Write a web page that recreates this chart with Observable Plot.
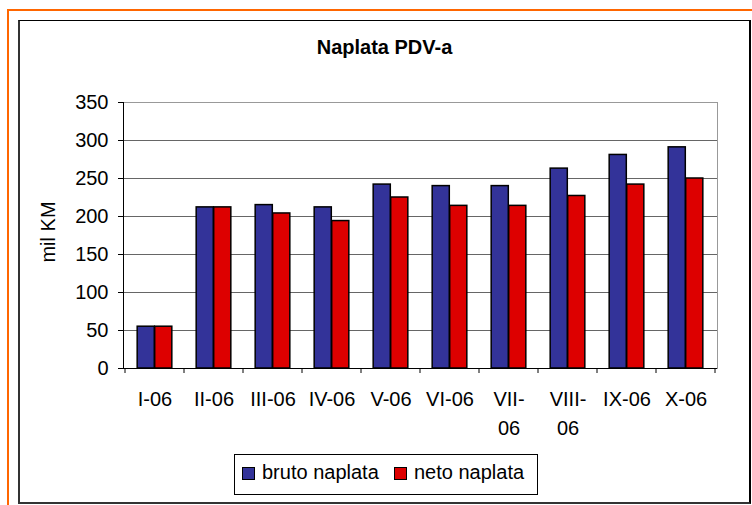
<!DOCTYPE html>
<html><head><meta charset="utf-8">
<script src="https://cdn.jsdelivr.net/npm/d3@7"></script>
<script src="https://cdn.jsdelivr.net/npm/@observablehq/plot@0.6"></script>
<style>
html,body{margin:0;padding:0;background:#fff;}
#wrap{position:relative;width:752px;height:505px;overflow:hidden;font-family:"Liberation Sans",Arial,sans-serif;color:#000;}
#orange{position:absolute;left:7px;top:9px;width:800px;height:600px;border-top:2px solid #ff6600;border-left:2px solid #ff6600;}
#box{position:absolute;left:18px;top:20px;width:729px;height:481px;border-top:1px solid #000;border-right:2px solid #000;border-left:2px solid #333;border-bottom:2px solid #333;}
#title{position:absolute;left:19px;width:731px;top:37px;text-align:center;font-weight:bold;font-size:20px;line-height:20px;}
#ylab{position:absolute;left:-2px;top:222px;width:100px;text-align:center;font-size:20px;line-height:20px;transform:rotate(-90deg);}
#chart{position:absolute;left:0;top:0;}
#legend{position:absolute;left:234px;top:454px;width:302px;height:39px;border:1px solid #000;background:#fff;}
.sw{position:absolute;width:11px;height:11px;border:1px solid #000;}
.lt{position:absolute;font-size:20px;line-height:20px;white-space:nowrap;}
</style>
</head><body>
<div id="wrap">
  <div id="orange"></div>
  <div id="box"></div>
  <div id="title"></div>
  <div id="ylab"></div>
  <div id="chart"></div>
  <div id="legend"></div>
</div>
<script>
const title = "Naplata PDV-a";
const yLabel = "mil KM";
const categories = ["I-06","II-06","III-06","IV-06","V-06","VI-06","VII-06","VIII-06","IX-06","X-06"];
const seriesNames = ["bruto naplata","neto naplata"];
const bruto = [55, 212, 215, 212, 242, 240, 240, 263, 281, 291];
const neto  = [55, 212, 204, 194, 225, 214, 214, 227, 242, 250];
const yTicks = [0, 50, 100, 150, 200, 250, 300, 350];
const wrappedLabels = ["VII-06","VIII-06"];
const colors = ["#333399", "#dd0000"];

const rows = categories.map((cat, i) => ({cat, bruto: bruto[i], neto: neto[i]}));

const W = 752, H = 505, mL = 123, mR = 35, mT = 102, mB = 137;
const bw = (W - mL - mR) / categories.length;
const barW = bw * 0.295;
const gap = (bw - 2 * barW) / 2;
const font = "'Liberation Sans', Arial, sans-serif";

const boundaryTicks = (index, scales) => {
  const x = scales.x, y = scales.y;
  const y0 = y(0);
  const xs = categories.map(c => x(c));
  xs.push(x(categories[categories.length - 1]) + x.bandwidth());
  const g = d3.create("svg:g").attr("stroke", "#000").attr("stroke-width", 1);
  for (const xv of xs) {
    g.append("line").attr("x1", xv).attr("x2", xv).attr("y1", y0).attr("y2", y0 + 5);
  }
  return g.node();
};

const chart = Plot.plot({
  width: W, height: H,
  marginLeft: mL, marginRight: mR, marginTop: mT, marginBottom: mB,
  style: {background: "transparent", fontFamily: font, fontSize: "20px", overflow: "visible", color: "#000"},
  x: {type: "band", domain: categories, padding: 0},
  y: {domain: [0, 350]},
  marks: [
    Plot.ruleY(yTicks.filter(d => d > 0 && d < 350), {stroke: "#666", strokeWidth: 1}),
    Plot.frame({anchor: "top", stroke: "#999"}),
    Plot.frame({anchor: "right", stroke: "#999"}),
    Plot.barY(rows, {x: "cat", y: "bruto", fill: colors[0], stroke: "#000", strokeWidth: 1.5, insetLeft: gap, insetRight: gap + barW}),
    Plot.barY(rows, {x: "cat", y: "neto", fill: colors[1], stroke: "#000", strokeWidth: 1.5, insetLeft: gap + barW, insetRight: gap}),
    Plot.frame({anchor: "left", stroke: "#000"}),
    Plot.ruleY([0], {stroke: "#000"}),
    Plot.axisY({ticks: yTicks, tickSize: 5, tickPadding: 10, fontSize: 20, label: null, stroke: "#000"}),
    Plot.axisX({tickSize: 0, tickPadding: 17, fontSize: 20, lineHeight: 1.45, label: null,
      tickFormat: d => wrappedLabels.includes(d) ? d.replace("-", "-\n") : d}),
    boundaryTicks
  ]
});
document.getElementById("chart").appendChild(chart);
document.getElementById("title").textContent = title;
document.getElementById("ylab").textContent = yLabel;

const legend = document.getElementById("legend");
const legendPos = [{sw: 242, tx: 262}, {sw: 394, tx: 414}];
seriesNames.forEach((name, i) => {
  const s = document.createElement("div");
  s.className = "sw";
  s.style.left = (legendPos[i].sw - 235) + "px";
  s.style.top = (467 - 455) + "px";
  s.style.background = colors[i];
  legend.appendChild(s);
  const t = document.createElement("div");
  t.className = "lt";
  t.style.left = (legendPos[i].tx - 235) + "px";
  t.style.top = (462 - 455) + "px";
  t.textContent = name;
  legend.appendChild(t);
});
</script>
</body></html>
